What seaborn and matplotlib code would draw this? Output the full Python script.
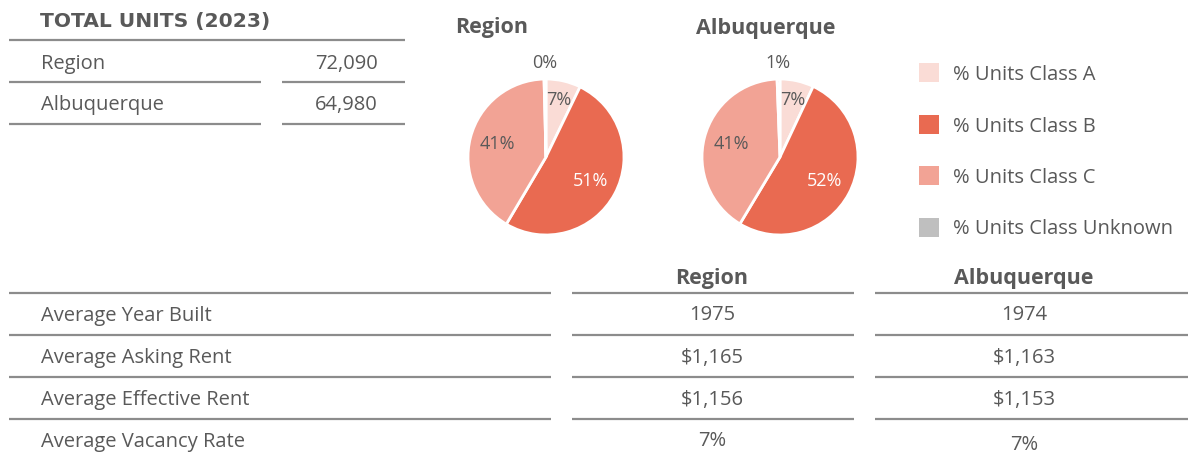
import numpy as np
import matplotlib.pyplot as plt
import seaborn as sns
from matplotlib.patches import Rectangle

sns.set_theme(style="white")
plt.rcParams['font.family'] = ['Open Sans', 'DejaVu Sans']

# data
classes = ["% Units Class A", "% Units Class B", "% Units Class C", "% Units Class Unknown"]
class_colors = ["#FADCD6", "#E96A51", "#F2A395", "#BFBFBF"]
region_share = [7.2, 51.3, 41.1, 0.4]
abq_share = [7.0, 51.6, 40.8, 0.6]

places = ["Region", "Albuquerque"]
total_units = [72090, 64980]

metrics = ["Average Year Built", "Average Asking Rent", "Average Effective Rent", "Average Vacancy Rate"]
year_built = [1975, 1974]
asking_rent = [1165, 1163]
effective_rent = [1156, 1153]
vacancy_rate = [7, 7]

grey = "#595959"
line_col = "#8C8C8C"

fig = plt.figure(figsize=(11.88, 4.59), dpi=100)
ax = fig.add_axes([0, 0, 1, 1])
ax.set_xlim(0, 1188)
ax.set_ylim(459, 0)
ax.axis("off")

# total units table
ax.text(40, 27, "TOTAL UNITS (2023)", fontsize=14.6, fontweight="bold", color=grey,
        family=["DejaVu Sans"])
ax.hlines(40, 9, 405, color=line_col, lw=1.6)
for i, (p, v) in enumerate(zip(places, total_units)):
    yb = 69 + i * 41
    ax.text(41, yb, p, fontsize=14.5, color=grey)
    ax.text(378, yb, f"{v:,}", fontsize=14.5, color=grey, ha="right")
    ax.hlines(yb + 13 + (1 if i else 0), 9, 261, color=line_col, lw=1.6)
    ax.hlines(yb + 13 + (1 if i else 0), 282, 405, color=line_col, lw=1.6)

# pies
pie_specs = [(region_share, 546, 492, 32.5), (abq_share, 780, 766, 34)]
label_dist = [0.75, 0.65, 0.65, 1.2]
r = 78
for k, (share, cx, tx, ty) in enumerate(pie_specs):
    ax.text(tx, ty, places[k], fontsize=15.5, fontweight="bold", color=grey, ha="center")
    pax = fig.add_axes([(cx - r) / 1188, 1 - (157 + r) / 459, 2 * r / 1188, 2 * r / 459])
    wedges, _ = pax.pie(share, colors=class_colors, startangle=90, counterclock=False,
                        wedgeprops=dict(edgecolor="white", linewidth=2))
    for w, val, d, c in zip(wedges, share, label_dist, class_colors):
        ang = np.deg2rad((w.theta1 + w.theta2) / 2)
        col = "white" if c == class_colors[1] else grey
        pax.text(d * np.cos(ang), d * np.sin(ang), f"{val:.0f}%", ha="center", va="center",
                 fontsize=13, color=col)
    pax.set_xlim(-1, 1)
    pax.set_ylim(-1, 1)
    pax.set_aspect("equal")
    pax.axis("off")

# legend
for i, (lab, c) in enumerate(zip(classes, class_colors)):
    yc = 72.5 + i * 51.5
    ax.add_patch(Rectangle((919, yc - 9.5), 20, 19, color=c, lw=0))
    ax.text(953, yc + 7.5, lab, fontsize=14.5, color=grey)

# metrics table
for j, (p, cx) in enumerate(zip(places, [712, 1024])):
    ax.text(cx, 284, p, fontsize=15.5, fontweight="bold", color=grey, ha="center")
ax.hlines(293, 9, 551, color=line_col, lw=1.6)
ax.hlines(293, 572, 854, color=line_col, lw=1.6)
ax.hlines(293, 875, 1188, color=line_col, lw=1.6)
cols = [
    [f"{year_built[0]}", f"${asking_rent[0]:,}", f"${effective_rent[0]:,}", f"{vacancy_rate[0]}%"],
    [f"{year_built[1]}", f"${asking_rent[1]:,}", f"${effective_rent[1]:,}", f"{vacancy_rate[1]}%"],
]
for i, m in enumerate(metrics):
    yb = 320.5 + i * 42
    ax.text(41, yb, m, fontsize=14.5, color=grey)
    ax.text(712, yb, cols[0][i], fontsize=14.5, color=grey, ha="center")
    ax.text(1024, yb + (4 if i == 3 else 0), cols[1][i], fontsize=14.5, color=grey, ha="center")
    if i < 3:
        yl = 335 + i * 42
        ax.hlines(yl, 9, 551, color=line_col, lw=1.6)
        ax.hlines(yl, 572, 854, color=line_col, lw=1.6)
        ax.hlines(yl, 875, 1188, color=line_col, lw=1.6)

fig.savefig("out.png", dpi=100)
